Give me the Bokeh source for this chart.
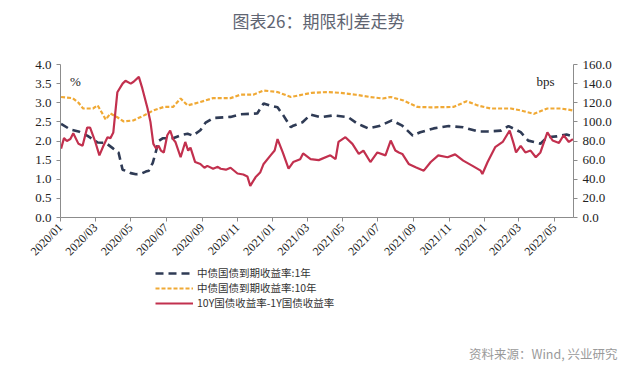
import pandas as pd
from math import pi
from bokeh.plotting import figure
from bokeh.layouts import column
from bokeh.models import (Range1d, LinearAxis, FixedTicker, DatetimeTickFormatter,
                          NumeralTickFormatter, Label, Legend, LegendItem, ColumnDataSource)
from bokeh.embed import file_html
from bokeh.resources import INLINE

# ---------------- data ----------------
title_text = "图表26：期限利差走势"
source_text = "资料来源：Wind, 兴业研究"
series_names = ["中债国债到期收益率:1年", "中债国债到期收益率:10年", "10Y国债收益率-1Y国债收益率"]

tick_labels = ["2020/01", "2020/03", "2020/05", "2020/07", "2020/09", "2020/11",
               "2021/01", "2021/03", "2021/05", "2021/07", "2021/09", "2021/11",
               "2022/01", "2022/03", "2022/05"]

y1_dates = ["2020-01-02", "2020-01-18", "2020-02-01", "2020-02-16", "2020-03-05", "2020-03-19",
            "2020-04-01", "2020-04-10", "2020-04-17", "2020-04-26", "2020-05-01", "2020-05-10",
            "2020-05-18", "2020-05-27", "2020-06-01", "2020-06-08", "2020-06-13", "2020-06-18",
            "2020-06-25", "2020-07-13", "2020-07-26", "2020-08-07", "2020-08-16", "2020-08-29",
            "2020-09-07", "2020-09-20", "2020-10-20", "2020-11-06", "2020-12-05", "2020-12-16",
            "2020-12-28", "2021-01-09", "2021-01-19", "2021-02-01", "2021-02-05", "2021-02-21",
            "2021-03-07", "2021-03-24", "2021-04-15", "2021-05-11", "2021-05-27", "2021-06-04",
            "2021-06-14", "2021-07-05", "2021-07-25", "2021-08-12", "2021-08-30", "2021-09-12",
            "2021-10-05", "2021-10-31", "2021-11-25", "2021-12-20", "2022-01-06", "2022-01-29",
            "2022-02-11", "2022-03-04", "2022-03-17", "2022-04-07", "2022-04-19", "2022-05-05",
            "2022-05-22", "2022-06-02"]
y1_values = [2.45, 2.30, 2.25, 2.14, 1.96, 1.95,
             1.80, 1.70, 1.25, 1.20, 1.16, 1.13,
             1.14, 1.20, 1.22, 1.43, 1.70, 2.00,
             2.07, 2.07, 2.15, 2.19, 2.14, 2.28,
             2.48, 2.60, 2.63, 2.70, 2.72, 2.98,
             2.92, 2.88, 2.67, 2.36, 2.40, 2.49,
             2.69, 2.62, 2.67, 2.62, 2.45, 2.40,
             2.33, 2.40, 2.54, 2.40, 2.14, 2.23,
             2.33, 2.39, 2.36, 2.25, 2.25, 2.27,
             2.39, 2.23, 2.01, 1.93, 2.10, 2.12,
             2.17, 2.12]

y10_dates = ["2020-01-02", "2020-01-22", "2020-02-01", "2020-02-09", "2020-02-26", "2020-03-05",
             "2020-03-15", "2020-03-19", "2020-03-27", "2020-04-08", "2020-04-19", "2020-05-06",
             "2020-05-24", "2020-06-09", "2020-06-27", "2020-07-13", "2020-07-26", "2020-08-07",
             "2020-08-29", "2020-09-20", "2020-10-20", "2020-11-06", "2020-11-28", "2020-12-16",
             "2021-01-09", "2021-02-01", "2021-02-17", "2021-03-09", "2021-04-05", "2021-04-27",
             "2021-05-24", "2021-06-18", "2021-07-09", "2021-07-23", "2021-08-14", "2021-09-07",
             "2021-09-30", "2021-11-08", "2021-12-01", "2021-12-20", "2022-01-11", "2022-02-15",
             "2022-03-04", "2022-03-27", "2022-04-19", "2022-05-12", "2022-06-02"]
y10_values = [3.15, 3.12, 3.00, 2.85, 2.85, 2.93,
              2.67, 2.56, 2.72, 2.62, 2.51, 2.54,
              2.67, 2.80, 2.89, 2.89, 3.11, 2.93,
              3.02, 3.12, 3.12, 3.21, 3.21, 3.32,
              3.28, 3.15, 3.20, 3.26, 3.28, 3.26,
              3.21, 3.15, 3.11, 3.15, 3.06, 2.89,
              2.88, 2.89, 3.04, 2.93, 2.85, 2.85,
              2.80, 2.71, 2.85, 2.85, 2.80]

spread_dates = ["2020-01-02", "2020-01-07", "2020-01-12", "2020-01-18", "2020-01-23", "2020-02-01",
                "2020-02-08", "2020-02-16", "2020-02-21", "2020-03-01", "2020-03-08", "2020-03-15",
                "2020-03-22", "2020-03-27", "2020-04-01", "2020-04-08", "2020-04-17", "2020-04-22",
                "2020-05-01", "2020-05-06", "2020-05-15", "2020-05-21", "2020-05-30", "2020-06-04",
                "2020-06-09", "2020-06-14", "2020-06-18", "2020-06-22", "2020-06-27", "2020-07-03",
                "2020-07-08", "2020-07-13", "2020-07-17", "2020-07-26", "2020-08-03", "2020-08-08",
                "2020-08-12", "2020-08-20", "2020-08-29", "2020-09-05", "2020-09-10", "2020-09-20",
                "2020-09-28", "2020-10-03", "2020-10-12", "2020-10-20", "2020-11-01", "2020-11-11",
                "2020-11-18", "2020-11-23", "2020-12-02", "2020-12-10", "2020-12-16", "2020-12-28",
                "2021-01-04", "2021-01-09", "2021-01-18", "2021-01-28", "2021-02-05", "2021-02-17",
                "2021-02-22", "2021-03-07", "2021-03-21", "2021-04-10", "2021-04-19", "2021-04-24",
                "2021-05-06", "2021-05-18", "2021-05-29", "2021-06-06", "2021-06-18", "2021-06-30",
                "2021-07-14", "2021-07-23", "2021-07-31", "2021-08-06", "2021-08-12", "2021-08-23",
                "2021-09-04", "2021-09-18", "2021-09-30", "2021-10-13", "2021-10-29", "2021-11-11",
                "2021-11-25", "2021-12-11", "2021-12-25", "2021-12-28", "2022-01-06", "2022-01-19",
                "2022-02-01", "2022-02-13", "2022-02-20", "2022-02-24", "2022-03-04", "2022-03-12",
                "2022-03-21", "2022-03-30", "2022-04-07", "2022-04-19", "2022-04-28", "2022-05-09",
                "2022-05-17", "2022-05-26", "2022-06-02"]
spread_values = [72, 83, 80, 82, 88, 77,
                 75, 94, 94, 79, 65, 75,
                 84, 83, 89, 131, 140, 143,
                 140, 142, 147, 135, 114, 100,
                 77, 72, 75, 70, 68, 86,
                 91, 82, 79, 63, 79, 70,
                 73, 58, 56, 52, 54, 51,
                 53, 51, 50, 52, 46, 45,
                 43, 33, 42, 47, 56, 65,
                 70, 82, 68, 51, 58, 61,
                 67, 61, 60, 65, 61, 79,
                 84, 77, 66.5, 70, 58, 68,
                 65, 80.5, 70, 68, 66.5, 56,
                 52.5, 49, 58, 65, 63, 66,
                 59.5, 54, 49, 45.5, 58, 73.5,
                 79, 91, 77, 68, 75, 68,
                 70, 63, 68, 89, 80.5, 78,
                 86, 79, 82]

# ---------------- styles ----------------
AXIS_FONT = "Liberation Serif"
CJK_FONT = "Noto Sans CJK SC"
C1, C10, CS = "#2f3b55", "#f0a935", "#c2304e"
W = 632
HEAD_H = 40
MAIN_H = 226
FOOT_H = 96


def bare_figure(height):
    fig = figure(width=W, height=height, x_range=Range1d(0, W), y_range=Range1d(0, height),
                 output_backend="svg", toolbar_location=None,
                 x_axis_location=None, y_axis_location=None,
                 min_border_left=0, min_border_right=0, min_border_top=0, min_border_bottom=0)
    fig.outline_line_color = None
    fig.xgrid.visible = False
    fig.ygrid.visible = False
    if "frame_align" in fig.properties():
        fig.frame_align = False
    return fig


# ---------------- header: title ----------------
h = bare_figure(HEAD_H)
h.add_layout(Label(x=318, y=20, x_units="screen", y_units="screen", text=title_text,
                   text_font=CJK_FONT, text_font_size="17px", text_color="#5f6572",
                   text_align="center", text_baseline="middle"))

# ---------------- main chart ----------------
x_start = pd.Timestamp("2020-01-01")
x_end = pd.Timestamp("2022-06-03")

p = figure(width=W, height=MAIN_H, x_axis_type="datetime",
           x_range=Range1d(x_start, x_end), y_range=Range1d(0, 4),
           output_backend="svg", toolbar_location=None,
           min_border_left=60, min_border_right=59, min_border_top=24, min_border_bottom=49)
if "frame_align" in p.properties():
    p.frame_align = False
p.extra_y_ranges = {"bps": Range1d(0, 160)}
p.outline_line_color = None
p.xgrid.visible = False
p.ygrid.visible = False

src1 = ColumnDataSource(dict(x=pd.to_datetime(y1_dates), y=y1_values))
src10 = ColumnDataSource(dict(x=pd.to_datetime(y10_dates), y=y10_values))
srcs = ColumnDataSource(dict(x=pd.to_datetime(spread_dates), y=spread_values))

p.line("x", "y", source=src10, line_color=C10, line_width=2.2, line_dash="4 2")
p.line("x", "y", source=src1, line_color=C1, line_width=2.6, line_dash="8 5")
p.line("x", "y", source=srcs, y_range_name="bps", line_color=CS, line_width=2.2)


def style_axis(ax):
    ax.axis_line_color = "#8c8c8c"
    ax.major_tick_line_color = "#8c8c8c"
    ax.minor_tick_line_color = None
    ax.major_tick_in = 0
    ax.major_tick_out = 4
    ax.major_label_text_font = AXIS_FONT
    ax.major_label_text_font_size = "13px"
    ax.major_label_text_color = "#222222"


left = p.yaxis[0]
left.ticker = FixedTicker(ticks=[i * 0.5 for i in range(9)])
left.formatter = NumeralTickFormatter(format="0.0")
style_axis(left)

right = LinearAxis(y_range_name="bps", ticker=FixedTicker(ticks=[i * 20 for i in range(9)]),
                   formatter=NumeralTickFormatter(format="0.0"))
style_axis(right)
p.add_layout(right, "right")

bottom = p.xaxis[0]
bottom.ticker = FixedTicker(ticks=[pd.Timestamp(t.replace("/", "-") + "-01").value / 1e6 for t in tick_labels])
fmt = "%Y/%m"
bottom.formatter = DatetimeTickFormatter(milliseconds=fmt, seconds=fmt, minsec=fmt, minutes=fmt,
                                         hourmin=fmt, hours=fmt, days=fmt, months=fmt, years=fmt)
style_axis(bottom)
bottom.major_label_orientation = pi / 4
bottom.major_label_text_font_size = "12px"
bottom.major_label_standoff = 4

p.add_layout(Label(x=15, y=136, x_units="screen", y_units="screen", text="%",
                   text_font=AXIS_FONT, text_font_size="13px", text_color="#222222",
                   text_align="center", text_baseline="middle"))
p.add_layout(Label(x=485, y=136, x_units="screen", y_units="screen", text="bps",
                   text_font=AXIS_FONT, text_font_size="13px", text_color="#222222",
                   text_align="center", text_baseline="middle"))

# ---------------- footer: legend + source ----------------
f = bare_figure(FOOT_H)
# legend renderers use the same series (they fall outside this strip's ranges)
l1 = f.line("x", "y", source=src1, line_color=C1, line_width=2.6, line_dash="8 5")
l10 = f.line("x", "y", source=src10, line_color=C10, line_width=2.2, line_dash="4 2")
ls = f.line("x", "y", source=srcs, line_color=CS, line_width=2.2)
legend = Legend(items=[LegendItem(label=series_names[0], renderers=[l1]),
                       LegendItem(label=series_names[1], renderers=[l10]),
                       LegendItem(label=series_names[2], renderers=[ls])],
                location=(155, 52), orientation="vertical",
                border_line_color=None, background_fill_alpha=0,
                padding=0, margin=0, spacing=0, label_height=14, glyph_height=14,
                glyph_width=38, label_standoff=4, label_text_line_height=1.0,
                label_text_font=CJK_FONT, label_text_font_size="10.5px", label_text_color="#333333")
f.add_layout(legend, "center")
f.add_layout(Label(x=617, y=9, x_units="screen", y_units="screen", text=source_text,
                   text_font=CJK_FONT, text_font_size="12.5px", text_color="#9a9a9a",
                   text_align="right", text_baseline="middle"))

layout = column(h, p, f, spacing=0)
open("out.html", "w").write(file_html(layout, INLINE))
